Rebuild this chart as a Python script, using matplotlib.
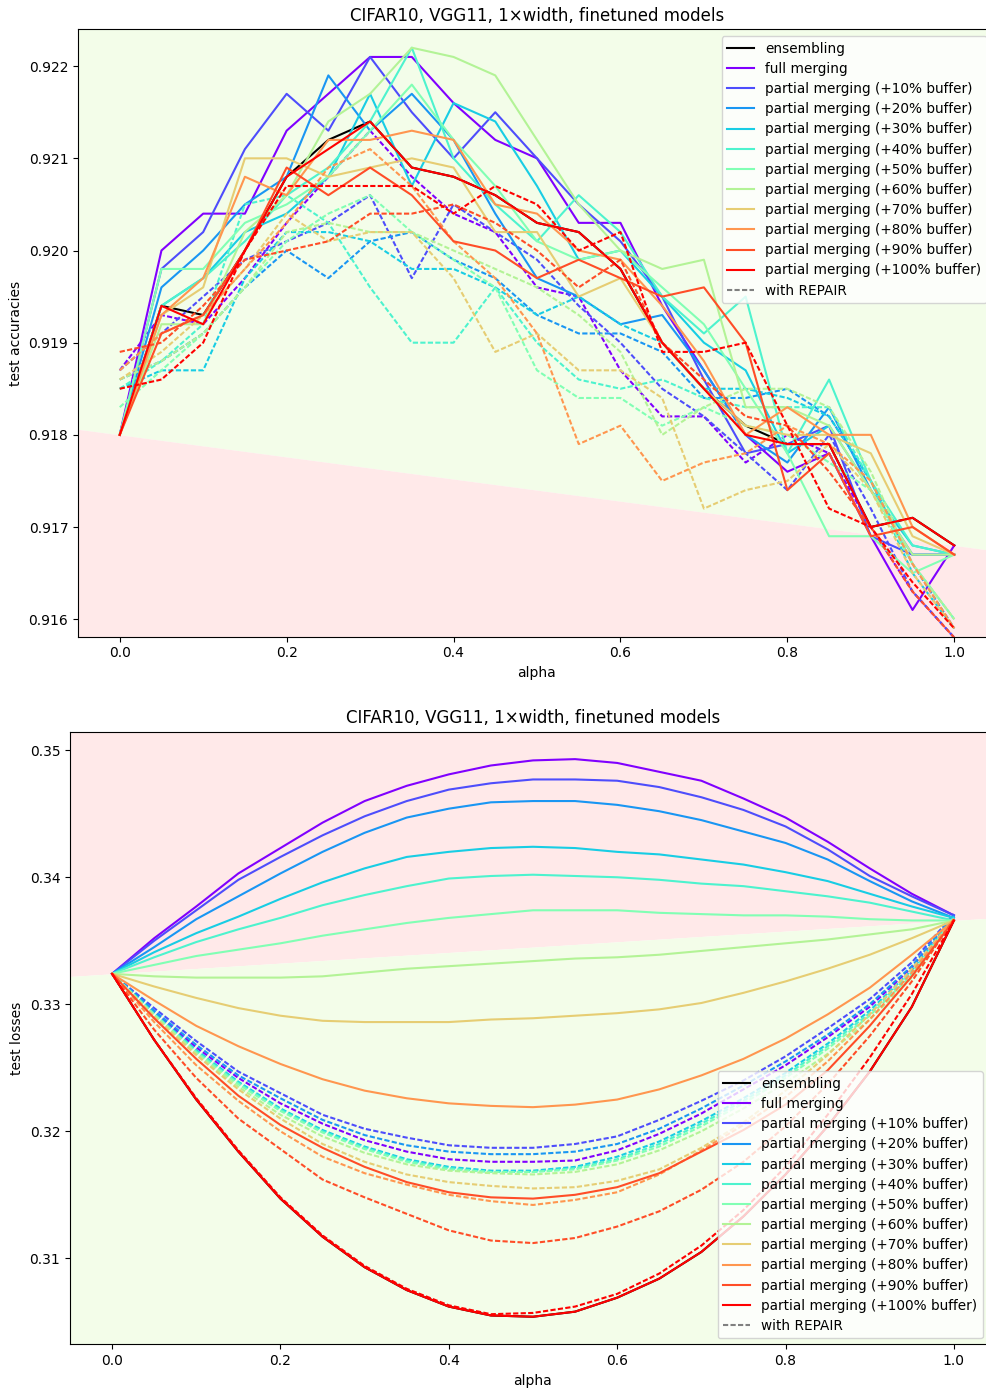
import matplotlib.pyplot as plt
import numpy as np
from matplotlib.lines import Line2D

alphas = np.linspace(0, 1, 21)
labels = ['full merging'] + ['partial merging (+%d%% buffer)' % p for p in range(10, 101, 10)]

# test accuracies
ens_acc = [0.9180, 0.9194, 0.9193, 0.9200, 0.9208, 0.9212, 0.9214, 0.9209, 0.9208, 0.9206, 0.9203,
           0.9202, 0.9198, 0.9190, 0.9185, 0.9181, 0.9179, 0.9179, 0.9170, 0.9171, 0.9168]
acc_full = [0.9180, 0.9200, 0.9204, 0.9204, 0.9213, 0.9217, 0.9221, 0.9221, 0.9216, 0.9212, 0.9210,
            0.9203, 0.9203, 0.9194, 0.9187, 0.9180, 0.9176, 0.9178, 0.9169, 0.9161, 0.9168]
acc_10 = [0.9180, 0.9198, 0.9202, 0.9211, 0.9217, 0.9213, 0.9221, 0.9215, 0.9210, 0.9215, 0.9210,
          0.9205, 0.9201, 0.9195, 0.9186, 0.9178, 0.9179, 0.9181, 0.9169, 0.9167, 0.9167]
acc_20 = [0.9180, 0.9196, 0.9200, 0.9205, 0.9208, 0.9219, 0.9213, 0.9217, 0.9212, 0.9204, 0.9197,
          0.9195, 0.9192, 0.9193, 0.9187, 0.9180, 0.9177, 0.9183, 0.9174, 0.9167, 0.9167]
acc_30 = [0.9180, 0.9194, 0.9197, 0.9202, 0.9204, 0.9208, 0.9217, 0.9207, 0.9216, 0.9214, 0.9207,
          0.9199, 0.9200, 0.9195, 0.9190, 0.9187, 0.9178, 0.9181, 0.9174, 0.9168, 0.9167]
acc_40 = [0.9180, 0.9194, 0.9197, 0.9201, 0.9206, 0.9209, 0.9214, 0.9222, 0.9210, 0.9205, 0.9201,
          0.9206, 0.9202, 0.9195, 0.9191, 0.9195, 0.9178, 0.9186, 0.9175, 0.9168, 0.9167]
acc_50 = [0.9180, 0.9198, 0.9198, 0.9203, 0.9205, 0.9208, 0.9213, 0.9218, 0.9212, 0.9207, 0.9201,
          0.9199, 0.9200, 0.9196, 0.9192, 0.9185, 0.9178, 0.9169, 0.9169, 0.9165, 0.9167]
acc_60 = [0.9180, 0.9192, 0.9192, 0.9202, 0.9206, 0.9214, 0.9217, 0.9222, 0.9221, 0.9219, 0.9212,
          0.9205, 0.9200, 0.9198, 0.9199, 0.9183, 0.9183, 0.9181, 0.9174, 0.9167, 0.9167]
acc_70 = [0.9180, 0.9193, 0.9196, 0.9210, 0.9210, 0.9208, 0.9209, 0.9210, 0.9209, 0.9202, 0.9202,
          0.9195, 0.9197, 0.9190, 0.9185, 0.9181, 0.9180, 0.9180, 0.9178, 0.9169, 0.9167]
acc_80 = [0.9180, 0.9193, 0.9197, 0.9208, 0.9206, 0.9212, 0.9212, 0.9213, 0.9212, 0.9205, 0.9204,
          0.9200, 0.9199, 0.9194, 0.9188, 0.9180, 0.9183, 0.9180, 0.9180, 0.9170, 0.9167]
acc_90 = [0.9180, 0.9191, 0.9193, 0.9200, 0.9209, 0.9206, 0.9209, 0.9206, 0.9201, 0.9200, 0.9197,
          0.9199, 0.9197, 0.9195, 0.9196, 0.9190, 0.9174, 0.9178, 0.9169, 0.9170, 0.9167]
acc_100 = [0.9180, 0.9194, 0.9192, 0.9200, 0.9208, 0.9211, 0.9214, 0.9209, 0.9208, 0.9206, 0.9203,
           0.9202, 0.9198, 0.9190, 0.9185, 0.9180, 0.9179, 0.9179, 0.9170, 0.9171, 0.9168]

# test accuracies with REPAIR
racc_full = [0.9187, 0.9193, 0.9192, 0.9197, 0.9203, 0.9208, 0.9213, 0.9208, 0.9204, 0.9202, 0.9196,
             0.9195, 0.9187, 0.9182, 0.9182, 0.9177, 0.9180, 0.9178, 0.9170, 0.9163, 0.9158]
racc_10 = [0.9187, 0.9191, 0.9195, 0.9199, 0.9201, 0.9203, 0.9206, 0.9197, 0.9205, 0.9202, 0.9199,
           0.9194, 0.9190, 0.9185, 0.9182, 0.9178, 0.9174, 0.9180, 0.9172, 0.9163, 0.9158]
racc_20 = [0.9186, 0.9188, 0.9191, 0.9196, 0.9200, 0.9197, 0.9201, 0.9202, 0.9199, 0.9197, 0.9193,
           0.9191, 0.9191, 0.9189, 0.9184, 0.9184, 0.9185, 0.9182, 0.9175, 0.9166, 0.9159]
racc_30 = [0.9185, 0.9187, 0.9187, 0.9197, 0.9202, 0.9202, 0.9201, 0.9198, 0.9198, 0.9196, 0.9193,
           0.9195, 0.9192, 0.9190, 0.9185, 0.9185, 0.9184, 0.9182, 0.9175, 0.9165, 0.9159]
racc_40 = [0.9185, 0.9188, 0.9192, 0.9205, 0.9206, 0.9203, 0.9196, 0.9190, 0.9190, 0.9196, 0.9190,
           0.9186, 0.9185, 0.9186, 0.9184, 0.9183, 0.9183, 0.9183, 0.9175, 0.9166, 0.9160]
racc_50 = [0.9183, 0.9187, 0.9191, 0.9196, 0.9201, 0.9204, 0.9206, 0.9202, 0.9199, 0.9196, 0.9187,
           0.9184, 0.9184, 0.9181, 0.9183, 0.9181, 0.9180, 0.9177, 0.9174, 0.9166, 0.9160]
racc_60 = [0.9186, 0.9188, 0.9191, 0.9196, 0.9202, 0.9203, 0.9202, 0.9202, 0.9200, 0.9198, 0.9196,
           0.9193, 0.9189, 0.9180, 0.9183, 0.9185, 0.9185, 0.9183, 0.9176, 0.9166, 0.9160]
racc_70 = [0.9186, 0.9189, 0.9193, 0.9198, 0.9204, 0.9201, 0.9202, 0.9202, 0.9197, 0.9189, 0.9191,
           0.9187, 0.9187, 0.9184, 0.9172, 0.9174, 0.9175, 0.9179, 0.9174, 0.9165, 0.9159]
racc_80 = [0.9187, 0.9191, 0.9193, 0.9198, 0.9203, 0.9209, 0.9211, 0.9207, 0.9201, 0.9197, 0.9191,
           0.9179, 0.9181, 0.9175, 0.9177, 0.9178, 0.9181, 0.9179, 0.9175, 0.9166, 0.9159]
racc_90 = [0.9189, 0.9190, 0.9194, 0.9199, 0.9200, 0.9201, 0.9204, 0.9204, 0.9205, 0.9203, 0.9200,
           0.9196, 0.9199, 0.9190, 0.9186, 0.9182, 0.9181, 0.9176, 0.9170, 0.9163, 0.9158]
racc_100 = [0.9185, 0.9186, 0.9190, 0.9200, 0.9207, 0.9207, 0.9207, 0.9207, 0.9204, 0.9207, 0.9205,
            0.9200, 0.9202, 0.9189, 0.9189, 0.9190, 0.9181, 0.9172, 0.9170, 0.9164, 0.9159]

# test losses
ens_loss = [0.3324, 0.3272, 0.3225, 0.3184, 0.3147, 0.3117, 0.3093, 0.3075, 0.3062, 0.3055, 0.3054,
            0.3058, 0.3069, 0.3084, 0.3105, 0.3133, 0.3166, 0.3204, 0.3247, 0.3298, 0.3366]
loss_full = [0.3324, 0.3352, 0.3377, 0.3403, 0.3423, 0.3443, 0.3460, 0.3472, 0.3481, 0.3488, 0.3492,
             0.3493, 0.3490, 0.3483, 0.3476, 0.3462, 0.3447, 0.3428, 0.3407, 0.3387, 0.3370]
loss_10 = [0.3324, 0.3350, 0.3374, 0.3398, 0.3416, 0.3433, 0.3448, 0.3460, 0.3469, 0.3474, 0.3477,
           0.3477, 0.3476, 0.3471, 0.3463, 0.3453, 0.3440, 0.3422, 0.3401, 0.3385, 0.3370]
loss_20 = [0.3324, 0.3345, 0.3367, 0.3385, 0.3403, 0.3420, 0.3435, 0.3447, 0.3454, 0.3459, 0.3460,
           0.3460, 0.3457, 0.3452, 0.3445, 0.3436, 0.3427, 0.3414, 0.3397, 0.3381, 0.3368]
loss_30 = [0.3324, 0.3341, 0.3356, 0.3369, 0.3383, 0.3396, 0.3407, 0.3416, 0.3420, 0.3423, 0.3424,
           0.3423, 0.3420, 0.3418, 0.3414, 0.3410, 0.3404, 0.3397, 0.3387, 0.3377, 0.3368]
loss_40 = [0.3324, 0.3337, 0.3349, 0.3359, 0.3368, 0.3378, 0.3386, 0.3393, 0.3399, 0.3401, 0.3402,
           0.3401, 0.3400, 0.3398, 0.3395, 0.3393, 0.3389, 0.3385, 0.3380, 0.3373, 0.3366]
loss_50 = [0.3324, 0.3331, 0.3338, 0.3343, 0.3348, 0.3354, 0.3359, 0.3364, 0.3368, 0.3371, 0.3374,
           0.3374, 0.3374, 0.3372, 0.3371, 0.3370, 0.3370, 0.3369, 0.3367, 0.3366, 0.3366]
loss_60 = [0.3324, 0.3322, 0.3321, 0.3321, 0.3321, 0.3322, 0.3325, 0.3328, 0.3330, 0.3332, 0.3334,
           0.3336, 0.3337, 0.3339, 0.3342, 0.3345, 0.3348, 0.3351, 0.3355, 0.3359, 0.3366]
loss_70 = [0.3324, 0.3314, 0.3305, 0.3297, 0.3291, 0.3287, 0.3286, 0.3286, 0.3286, 0.3288, 0.3289,
           0.3291, 0.3293, 0.3296, 0.3301, 0.3309, 0.3318, 0.3328, 0.3339, 0.3352, 0.3366]
loss_80 = [0.3324, 0.3303, 0.3283, 0.3267, 0.3253, 0.3241, 0.3232, 0.3226, 0.3222, 0.3220, 0.3219,
           0.3221, 0.3225, 0.3233, 0.3244, 0.3257, 0.3273, 0.3292, 0.3313, 0.3339, 0.3366]
loss_90 = [0.3324, 0.3289, 0.3257, 0.3228, 0.3205, 0.3187, 0.3172, 0.3160, 0.3152, 0.3148, 0.3147,
           0.3150, 0.3156, 0.3167, 0.3184, 0.3201, 0.3221, 0.3248, 0.3283, 0.3322, 0.3366]
loss_100 = [0.3324, 0.3272, 0.3225, 0.3184, 0.3147, 0.3117, 0.3093, 0.3075, 0.3062, 0.3055, 0.3054,
            0.3058, 0.3069, 0.3084, 0.3105, 0.3133, 0.3166, 0.3204, 0.3247, 0.3298, 0.3366]

# test losses with REPAIR
rloss_full = [0.3324, 0.3294, 0.3266, 0.3242, 0.3222, 0.3206, 0.3193, 0.3184, 0.3178, 0.3176, 0.3176,
              0.3177, 0.3185, 0.3198, 0.3214, 0.3233, 0.3252, 0.3274, 0.3298, 0.3329, 0.3370]
rloss_10 = [0.3324, 0.3297, 0.3271, 0.3247, 0.3230, 0.3213, 0.3202, 0.3195, 0.3189, 0.3187, 0.3187,
            0.3190, 0.3196, 0.3209, 0.3224, 0.3240, 0.3259, 0.3281, 0.3304, 0.3333, 0.3371]
rloss_20 = [0.3324, 0.3295, 0.3268, 0.3244, 0.3226, 0.3209, 0.3197, 0.3189, 0.3184, 0.3182, 0.3182,
            0.3184, 0.3190, 0.3202, 0.3218, 0.3236, 0.3255, 0.3276, 0.3300, 0.3330, 0.3370]
rloss_30 = [0.3324, 0.3293, 0.3264, 0.3239, 0.3218, 0.3201, 0.3188, 0.3178, 0.3172, 0.3169, 0.3169,
            0.3172, 0.3180, 0.3192, 0.3208, 0.3226, 0.3246, 0.3269, 0.3295, 0.3327, 0.3369]
rloss_40 = [0.3324, 0.3292, 0.3263, 0.3238, 0.3217, 0.3200, 0.3187, 0.3177, 0.3171, 0.3168, 0.3168,
            0.3171, 0.3178, 0.3190, 0.3206, 0.3224, 0.3244, 0.3267, 0.3293, 0.3325, 0.3368]
rloss_50 = [0.3324, 0.3292, 0.3262, 0.3237, 0.3216, 0.3199, 0.3186, 0.3176, 0.3170, 0.3168, 0.3168,
            0.3170, 0.3177, 0.3188, 0.3204, 0.3222, 0.3242, 0.3265, 0.3291, 0.3323, 0.3368]
rloss_60 = [0.3324, 0.3291, 0.3261, 0.3235, 0.3213, 0.3196, 0.3183, 0.3174, 0.3169, 0.3167, 0.3166,
            0.3168, 0.3174, 0.3185, 0.3200, 0.3218, 0.3238, 0.3261, 0.3288, 0.3321, 0.3367]
rloss_70 = [0.3324, 0.3290, 0.3260, 0.3233, 0.3210, 0.3190, 0.3176, 0.3166, 0.3160, 0.3157, 0.3155,
            0.3156, 0.3161, 0.3170, 0.3187, 0.3207, 0.3232, 0.3260, 0.3292, 0.3328, 0.3367]
rloss_80 = [0.3324, 0.3286, 0.3252, 0.3224, 0.3200, 0.3180, 0.3167, 0.3158, 0.3150, 0.3145, 0.3142,
            0.3146, 0.3152, 0.3166, 0.3185, 0.3205, 0.3227, 0.3255, 0.3288, 0.3325, 0.3367]
rloss_90 = [0.3324, 0.3280, 0.3242, 0.3210, 0.3186, 0.3162, 0.3148, 0.3135, 0.3122, 0.3114, 0.3112,
            0.3116, 0.3125, 0.3137, 0.3154, 0.3176, 0.3204, 0.3237, 0.3275, 0.3318, 0.3367]
rloss_100 = [0.3324, 0.3272, 0.3226, 0.3185, 0.3148, 0.3118, 0.3094, 0.3076, 0.3063, 0.3056, 0.3057,
             0.3062, 0.3072, 0.3088, 0.3110, 0.3138, 0.3172, 0.3213, 0.3258, 0.3308, 0.3366]

accs = [acc_full, acc_10, acc_20, acc_30, acc_40, acc_50, acc_60, acc_70, acc_80, acc_90, acc_100]
raccs = [racc_full, racc_10, racc_20, racc_30, racc_40, racc_50, racc_60, racc_70, racc_80, racc_90, racc_100]
losses = [loss_full, loss_10, loss_20, loss_30, loss_40, loss_50, loss_60, loss_70, loss_80, loss_90, loss_100]
rlosses = [rloss_full, rloss_10, rloss_20, rloss_30, rloss_40, rloss_50, rloss_60, rloss_70, rloss_80,
           rloss_90, rloss_100]

colors = plt.cm.rainbow(np.linspace(0, 1, 11))
title = 'CIFAR10, VGG11, 1\u00d7width, finetuned models'
dash = (2.5, 1.1)

W, H = 987, 1389
fig = plt.figure(figsize=(W / 100, H / 100), dpi=100)
ax1 = fig.add_axes([78 / W, 1 - 636.7 / H, (996 - 78) / W, (636.7 - 29.3) / H])
ax2 = fig.add_axes([70 / W, 1 - 1344.3 / H, (996 - 70) / W, (1344.3 - 731.7) / H])


def shade(ax, ens, ylim, above, below):
    # colour regions above / below the straight line between the endpoint models
    xs = np.array([-0.05, 1.05])
    base = ens[0] + (ens[-1] - ens[0]) * xs
    ax.fill_between(xs, base, ylim[1], color=above, lw=0, zorder=0)
    ax.fill_between(xs, ylim[0], base, color=below, lw=0, zorder=0)
    ax.set_xlim(-0.05, 1.05)
    ax.set_ylim(*ylim)


def draw(ax, ens, solid, dashed, ylabel, loc, anchor):
    ax.plot(alphas, ens, color='black', lw=1.5)
    for i in range(11):
        ax.plot(alphas, solid[i], color=colors[i], lw=1.5)
        ax.plot(alphas, dashed[i], color=colors[i], lw=1.5, ls='--', dashes=dash)
    handles = [Line2D([], [], color='black', lw=1.5)]
    handles += [Line2D([], [], color=colors[i], lw=1.5) for i in range(11)]
    handles += [Line2D([], [], color='gray', lw=1.5, ls='--', dashes=dash)]
    ax.legend(handles, ['ensembling'] + labels + ['with REPAIR'], loc=loc,
              bbox_to_anchor=anchor, borderaxespad=0,
              fontsize=9.85, labelspacing=0.45)
    ax.set_title(title)
    ax.set_xlabel('alpha')
    ax.set_ylabel(ylabel)


green = '#f3fde9'
pink = '#ffe9e9'
shade(ax1, ens_acc, (0.91581, 0.92240), green, pink)
draw(ax1, ens_acc, accs, raccs, 'test accuracies', 'upper right',
     (1 - 9 / 918, 1 - 7 / 607))
shade(ax2, ens_loss, (0.30323, 0.35146), pink, green)
draw(ax2, ens_loss, losses, rlosses, 'test losses', 'lower right',
     (1 - 13 / 926, 6 / 613))

fig.savefig('out.png', dpi=100)
